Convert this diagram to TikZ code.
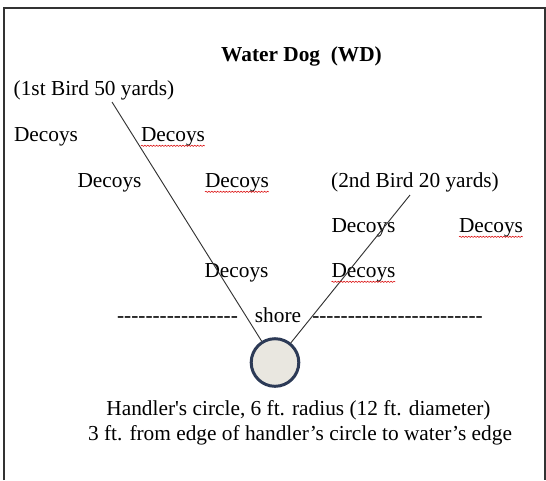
\documentclass[tikz,border=0pt]{standalone}
\usepackage{fontspec}
\setmainfont{Liberation Serif}
\usetikzlibrary{decorations.pathmorphing}
\definecolor{ringblue}{RGB}{44,58,86}
\definecolor{ringfill}{RGB}{233,231,224}
\newcommand{\hyphens}[1]{\foreach\k in {1,...,#1}{-}}

\begin{document}
\begin{tikzpicture}[x=0.75pt,y=-0.75pt,every node/.style={inner sep=0,outer sep=0,anchor=base,font=\fontsize{16}{18.5}\selectfont},
	spell/.style={red!85!black,line width=0.4pt,decorate,decoration={snake,amplitude=0.45pt,segment length=2.2pt}}]
	\useasboundingbox (0,0) rectangle (546,480);
	\draw[line width=1.5pt,black!80] (3.5,480) -- (3.5,7.5) -- (544.5,7.5) -- (544.5,480);
	\node (title) at (301.5,61) {\bfseries Water Dog\ \ (WD)};
	\node (bird1) at (94,95) {(1st Bird 50 yards)};
	\node (d1a) at (46,141) {Decoys};
	\node (d1b) at (173,141) {Decoys};
	\node (d2a) at (109.5,187) {Decoys};
	\node (d2b) at (237,187) {Decoys};
	\node (bird2) at (415,187) {(2nd Bird 20 yards)};
	\node (d3a) at (363.5,232) {Decoys};
	\node (d3b) at (491,232) {Decoys};
	\node (d4a) at (236.5,277) {Decoys};
	\node (d4b) at (363.5,277) {Decoys};
	\node (shore) at (278,322) {shore};
	\node (dashL) at (177.5,322) {\hyphens{17}};
	\node (dashR) at (397.5,322) {\hyphens{24}};
	\node (handler) [circle,anchor=center,draw=ringblue,fill=ringfill,line width=2.25pt,minimum size=35.7pt,outer sep=1.1pt] at (275,362.5) {};
	\node (cap1) at (298.5,415) {Handler\textquotesingle s circle, 6 ft. radius (12 ft. diameter)};
	\node (cap2) at (300,440) {3 ft. from edge of handler’s circle to water’s edge};
	\coordinate (run1) at (112,102);
	\coordinate (run2) at (410,195);
	\path[draw=black!80,line width=0.7pt]
		(run1) edge (handler)
		(run2) edge (handler);
	% spelling marks
	\foreach \n in {d1b,d2b,d3b,d4b}
		\draw[spell] ([yshift=-3.6pt]\n.base west) -- ([yshift=-3.6pt]\n.base east);
\end{tikzpicture}
\end{document}
